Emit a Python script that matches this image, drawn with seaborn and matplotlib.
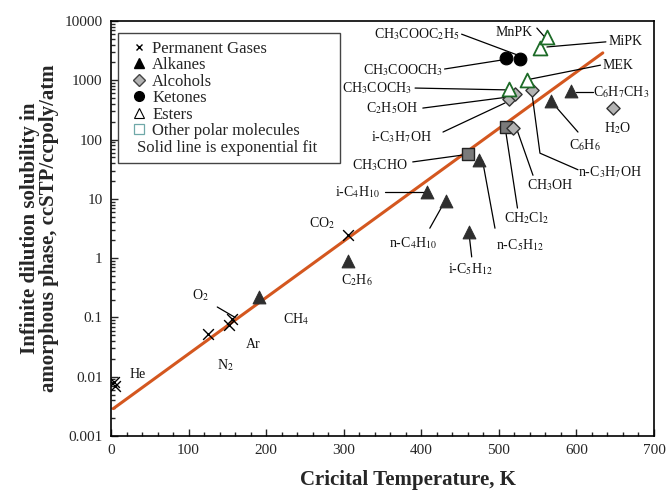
import numpy as np
import pandas as pd
import matplotlib
matplotlib.use("Agg")
import matplotlib.pyplot as plt
import seaborn as sns
from matplotlib.lines import Line2D
from matplotlib.ticker import FixedLocator, MultipleLocator, LogLocator, NullFormatter

# ---------------- data (critical temperature K, solubility) ----------------
gas_names = ["He", "He", "N2", "Ar", "O2", "CO2"]
gas_tc = [5.2, 4.0, 125, 152, 156, 305]
gas_s = [0.0069, 0.0082, 0.052, 0.075, 0.095, 2.45]

alkane_names = ["CH4", "C2H6", "i-C4H10", "n-C4H10", "i-C5H12", "n-C5H12", "C6H6", "C6H7CH3"]
alkane_tc = [191, 305, 408, 432, 461, 474, 567, 593]
alkane_s = [0.22, 0.9, 13, 9.2, 2.8, 45, 450, 660]

alcohol_names = ["i-C3H7OH", "C2H5OH", "CH3OH", "n-C3H7OH", "H2O"]
alcohol_tc = [513, 521, 518, 543, 647]
alcohol_s = [480, 590, 158, 690, 340]

ketone_names = ["CH3COOCH3", "CH3COOC2H5"]
ketone_tc = [509, 527]
ketone_s = [2400, 2300]

ester_names = ["CH3COCH3", "MEK", "MiPK", "MnPK"]
ester_tc = [513, 536, 553, 562]
ester_s = [700, 1000, 3500, 5300]

polar_names = ["CH3CHO", "CH2Cl2"]
polar_tc = [460, 509]
polar_s = [58, 160]

# exponential fit line (end points)
fit_tc = [3, 634]
fit_s = [0.0029, 2900]

x_ticks = [0, 100, 200, 300, 400, 500, 600, 700]
y_ticks = [0.001, 0.01, 0.1, 1, 10, 100, 1000, 10000]
y_tick_labels = ["0.001", "0.01", "0.1", "1", "10", "100", "1000", "10000"]

legend_labels = ["Permanent Gases", "Alkanes", "Alcohols", "Ketones", "Esters",
                 "Other polar molecules"]
legend_note = "Solid line is exponential fit"

# point labels: text, x, y, horizontal alignment
point_labels = [
    ("He", 34, 0.011, "center"),
    ("N$_2$", 147, 0.016, "center"),
    ("Ar", 183, 0.035, "center"),
    ("CH$_4$", 238, 0.093, "center"),
    ("O$_2$", 115, 0.24, "center"),
    ("CO$_2$", 272, 3.9, "center"),
    ("C$_2$H$_6$", 317, 0.43, "center"),
    ("i-C$_4$H$_{10}$", 347, 13, "right"),
    ("n-C$_4$H$_{10}$", 389, 1.8, "center"),
    ("i-C$_5$H$_{12}$", 463, 0.66, "center"),
    ("n-C$_5$H$_{12}$", 528, 1.66, "center"),
    ("CH$_2$Cl$_2$", 536, 4.8, "center"),
    ("CH$_3$OH", 566, 17, "center"),
    ("n-C$_3$H$_7$OH", 643, 28, "center"),
    ("C$_6$H$_6$", 611, 81, "center"),
    ("H$_2$O", 653, 157, "center"),
    ("C$_6$H$_7$CH$_3$", 621, 630, "left"),
    ("MEK", 634, 1800, "left"),
    ("MiPK", 642, 4500, "left"),
    ("MnPK", 544, 6500, "right"),
    ("CH$_3$COOC$_2$H$_5$", 450, 6000, "right"),
    ("CH$_3$COOCH$_3$", 428, 1490, "right"),
    ("CH$_3$COCH$_3$", 388, 740, "right"),
    ("C$_2$H$_5$OH", 396, 340, "right"),
    ("i-C$_3$H$_7$OH", 414, 110, "right"),
    ("CH$_3$CHO", 383, 37, "right"),
]

# leader lines (label -> point)
leaders = [
    [(137, 0.15), (160, 0.10)],
    [(353, 13), (405, 13)],
    [(411, 3.2), (430, 8.9)],
    [(465, 1.05), (461, 3.0)],
    [(495, 3.2), (479, 44)],
    [(524, 7), (509, 134)],
    [(544, 25), (521, 180)],
    [(602, 31), (553, 59), (543, 560)],
    [(602, 134), (575, 340)],
    [(621, 630), (600, 630)],
    [(631, 1800), (541, 1050)],
    [(638, 4450), (562, 3650)],
    [(549, 7600), (559, 5400)],
    [(452, 6000), (523, 2700)],
    [(430, 1550), (504, 2200)],
    [(392, 740), (508, 690)],
    [(402, 340), (511, 520)],
    [(428, 134), (508, 415)],
    [(389, 42), (454, 55)],
]

# ---------------- style ----------------
sns.set_style("ticks")
plt.rcParams["font.family"] = ["Liberation Serif", "DejaVu Serif"]
plt.rcParams["mathtext.fontset"] = "stix"

fig = plt.figure(figsize=(6.67, 4.91), dpi=100)
ax = fig.add_axes([0.1664, 0.112, 0.8141, 0.8452])
ax.set_yscale("log")

frames = []
for g, n, t, s in [("gas", gas_names, gas_tc, gas_s),
                   ("alkane", alkane_names, alkane_tc, alkane_s),
                   ("alcohol", alcohol_names, alcohol_tc, alcohol_s),
                   ("ketone", ketone_names, ketone_tc, ketone_s),
                   ("ester", ester_names, ester_tc, ester_s),
                   ("polar", polar_names, polar_tc, polar_s)]:
    frames.append(pd.DataFrame({"group": g, "name": n, "Tc": t, "S": s}))
df = pd.concat(frames, ignore_index=True)

fit_df = pd.DataFrame({"Tc": fit_tc, "S": fit_s})
sns.lineplot(data=fit_df, x="Tc", y="S", color="#d4571f", linewidth=2.2, ax=ax,
             zorder=2)

styles = {
    "gas": dict(marker="x", color="black", s=60, linewidth=1.0),
    "alkane": dict(marker="^", color="#2e2e2e", edgecolor="#2e2e2e", s=85),
    "alcohol": dict(marker="D", color="#b3b3b3", edgecolor="#333333", s=45, linewidth=1.0),
    "ketone": dict(marker="o", color="black", edgecolor="black", s=85),
    "ester": dict(marker="^", color="white", edgecolor="#1d6b27", s=100, linewidth=1.3),
    "polar": dict(marker="s", color="#7a7a7a", edgecolor="#222222", s=65, linewidth=1.0),
}
for g in ["polar", "alcohol", "gas", "alkane", "ketone", "ester"]:
    sub = df[df["group"] == g]
    sns.scatterplot(data=sub, x="Tc", y="S", ax=ax, zorder=3, legend=False, **styles[g])

for pts in leaders:
    xs = [p[0] for p in pts]
    ys = [p[1] for p in pts]
    ax.plot(xs, ys, color="black", lw=0.9, zorder=2.5)

for txt, x, y, ha in point_labels:
    ax.text(x, y, txt, ha=ha, va="center", fontsize=10, color="#111111", zorder=4)

# axes
ax.set_xlim(0, 700)
ax.set_ylim(0.001, 10000)
ax.xaxis.set_major_locator(FixedLocator(x_ticks))
ax.set_xticklabels([str(v) for v in x_ticks])
ax.xaxis.set_minor_locator(MultipleLocator(20))
ax.yaxis.set_major_locator(FixedLocator(y_ticks))
ax.set_yticklabels(y_tick_labels)
ax.yaxis.set_minor_locator(LogLocator(base=10, subs=np.arange(2, 10), numticks=20))
ax.yaxis.set_minor_formatter(NullFormatter())
ax.tick_params(which="both", direction="in", top=False, right=False, labelsize=11,
               pad=6, width=1.0)
ax.tick_params(which="major", length=5)
ax.tick_params(which="minor", length=3)
for sp in ax.spines.values():
    sp.set_linewidth(1.2)
    sp.set_color("black")

ax.set_xlabel("Cricital Temperature, K", fontsize=15, fontweight="bold", labelpad=9,
              x=0.547)
ax.set_ylabel("Infinite dilution solubility in\namorphous phase, ccSTP/ccpoly/atm",
              fontsize=15, fontweight="bold", linespacing=0.95, labelpad=4)

# legend
handles = [
    Line2D([], [], marker="x", ls="none", color="black", markersize=5, mew=1.0),
    Line2D([], [], marker="^", ls="none", color="black", markersize=7),
    Line2D([], [], marker="D", ls="none", mfc="#b3b3b3", mec="#444444", markersize=6),
    Line2D([], [], marker="o", ls="none", color="black", markersize=7),
    Line2D([], [], marker="^", ls="none", mfc="white", mec="black", markersize=7, mew=0.8),
    Line2D([], [], marker="s", ls="none", mfc="white", mec="#6fa8a8", markersize=7, mew=0.9),
    Line2D([], [], ls="none"),
]
leg = ax.legend(handles, legend_labels + [legend_note], loc="upper left",
                bbox_to_anchor=(0.013, 0.971), borderaxespad=0, fontsize=12,
                frameon=True, fancybox=False, edgecolor="#444444", framealpha=1,
                labelspacing=0.03, handlelength=1.6, handletextpad=0.0,
                borderpad=0.45)
leg.get_frame().set_linewidth(1.0)
leg.get_texts()[6].set_alpha(0)

fig.canvas.draw()
t6 = leg.get_texts()[6].get_window_extent()
inv = ax.transAxes.inverted()
yc = inv.transform((0, (t6.y0 + t6.y1) / 2))[1]
ax.text(0.048, yc, legend_note, transform=ax.transAxes, fontsize=12, va="center",
        ha="left", zorder=6)

fig.savefig("out.png", dpi=100)
